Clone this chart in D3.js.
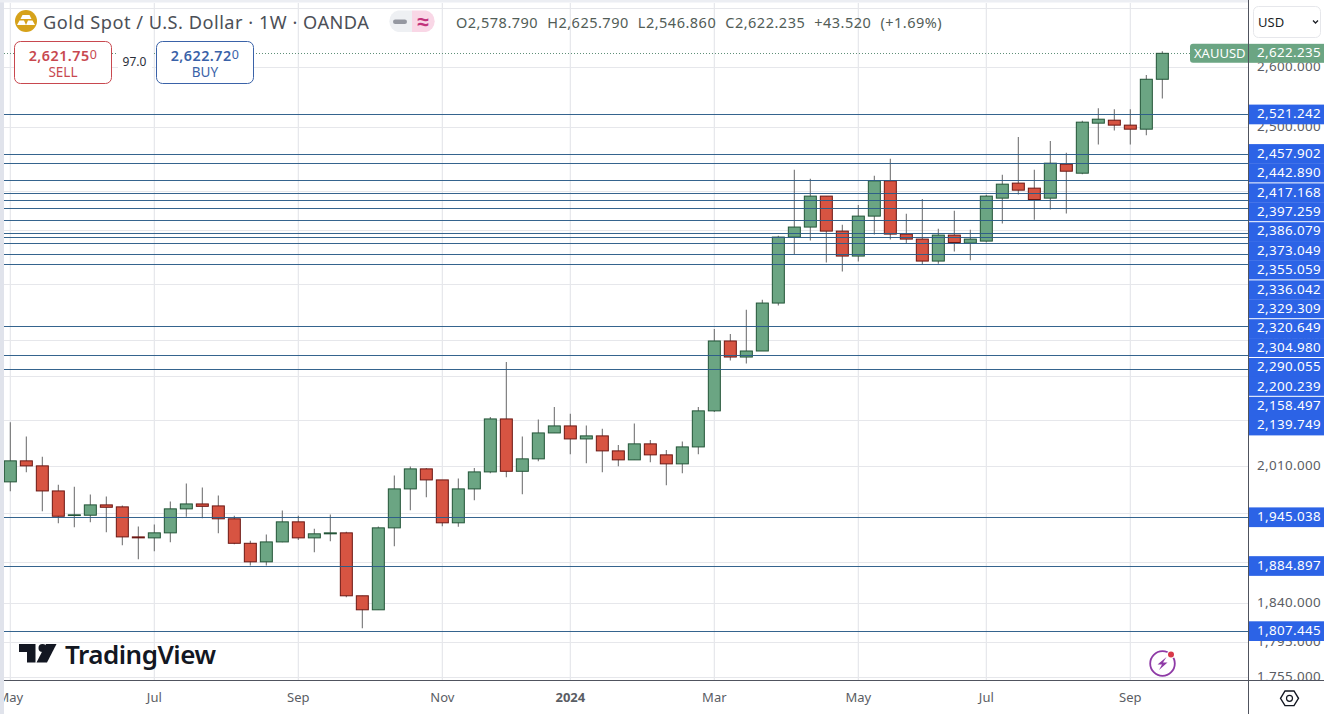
<!DOCTYPE html>
<html><head><meta charset="utf-8">
<script src="https://cdn.jsdelivr.net/npm/d3@7"></script>
<style>
html,body{margin:0;padding:0;background:#fff;overflow:hidden}
svg{display:block}
text{font-family:"Noto Sans",sans-serif}
</style></head><body><svg id="c" width="1324" height="714"></svg>
<script>
const weeks=["2023-05-01","2023-05-08","2023-05-15","2023-05-22","2023-05-29","2023-06-05","2023-06-12","2023-06-19","2023-06-26","2023-07-03","2023-07-10","2023-07-17","2023-07-24","2023-07-31","2023-08-07","2023-08-14","2023-08-21","2023-08-28","2023-09-04","2023-09-11","2023-09-18","2023-09-25","2023-10-02","2023-10-09","2023-10-16","2023-10-23","2023-10-30","2023-11-06","2023-11-13","2023-11-20","2023-11-27","2023-12-04","2023-12-11","2023-12-18","2023-12-25","2024-01-01","2024-01-08","2024-01-15","2024-01-22","2024-01-29","2024-02-05","2024-02-12","2024-02-19","2024-02-26","2024-03-04","2024-03-11","2024-03-18","2024-03-25","2024-04-01","2024-04-08","2024-04-15","2024-04-22","2024-04-29","2024-05-06","2024-05-13","2024-05-20","2024-05-27","2024-06-03","2024-06-10","2024-06-17","2024-06-24","2024-07-01","2024-07-08","2024-07-15","2024-07-22","2024-07-29","2024-08-05","2024-08-12","2024-08-19","2024-08-26","2024-09-02","2024-09-09","2024-09-16"];
const opens=[1989.7,2016.8,2010.3,1978.1,1947,1947.4,1960.4,1957.9,1920.4,1919.2,1925.4,1955.4,1961.6,1959.1,1942.9,1912.5,1889.8,1914.2,1939.1,1919.2,1924.2,1925.4,1848.9,1832.3,1931.6,1980.7,2006.4,1992.2,1937.9,1980.7,2002.5,2072,2003.3,2019.4,2053.4,2062.7,2045.5,2049.5,2029.8,2018.1,2039,2024.6,2012.9,2035,2082.8,2178.7,2156.3,2164.7,2232.6,2329.5,2344.6,2391.8,2338.5,2301.2,2361.2,2415.4,2334,2326.5,2293.8,2332.5,2320.5,2323.5,2388.7,2411.9,2404.1,2388.7,2441.5,2427.4,2506.9,2511.7,2503.7,2497.2,2578.79];
const highs=[2067.5,2048.6,2022,1986,1983.6,1973.5,1970.9,1959.5,1933.2,1935.7,1964.6,1987.5,1982.4,1972.2,1946.6,1915.5,1923.3,1953.2,1946.6,1930.4,1948.3,1926.7,1848.9,1933.2,1997.8,2009.4,2007.7,1992.2,1993.9,2007.7,2074.7,2149.4,2048.6,2071.1,2088.1,2079.1,2063.1,2059.1,2037.6,2065.8,2044.2,2031.1,2042,2088.1,2195.6,2188.5,2223,2237.3,2331.5,2432.6,2418.6,2391.8,2348,2378,2423.2,2449.9,2364.7,2387.2,2342,2369.3,2340.5,2393.8,2424.8,2484.8,2432.6,2478.4,2459.4,2510.6,2531.1,2529.5,2529.5,2586,2625.79];
const lows=[1977.6,2002,1952.4,1937.4,1932.4,1938.6,1926.2,1910.1,1893,1902.7,1913.8,1945.4,1943.6,1925,1911.3,1885.2,1885.2,1913.7,1916.7,1901.5,1915,1847.2,1810.7,1832.3,1908.9,1953.6,1970,1933.7,1933,1966.2,2000.7,1995.6,1973.8,2016.3,2053.4,2025.4,2013.7,2002,2009.8,2018.1,2015,1985.3,2000.7,2025.4,2081.4,2151.6,2147.5,2164.7,2229.1,2303.6,2324.4,2291.7,2278.5,2293.2,2333.4,2325.9,2320.5,2287.9,2289.8,2308,2295,2321.4,2350,2394.2,2355.6,2371.3,2365.2,2425.9,2472.5,2495,2472.5,2487.6,2546.86];
const closes=[2016.8,2010.3,1978.1,1946.1,1947.9,1960.4,1957.4,1920.4,1919.2,1925.4,1955.4,1961.6,1958.6,1942.9,1912.5,1889.8,1914.2,1939.1,1919.2,1924.2,1925.4,1848.9,1832.3,1931.6,1980.7,2006.4,1992.2,1937.9,1980.7,2002.5,2072,2003.3,2019.4,2053.4,2062.7,2045.5,2049.5,2029.8,2018.1,2039,2024.6,2012.9,2035,2082.8,2178.7,2156.3,2164.7,2232.6,2329.5,2344.6,2391.8,2338.5,2301.2,2361.2,2415.4,2334,2326.5,2293.8,2332.5,2321.4,2326.5,2391.8,2410.3,2401,2386.6,2443.1,2430.5,2508.5,2513.3,2503.7,2497.2,2578.8,2622.235];
const levels=[2521.242,2457.902,2442.89,2417.168,2397.259,2386.079,2373.049,2355.059,2336.042,2329.309,2320.649,2304.98,2290.055,2200.239,2158.497,2139.749,1945.038,1884.897,1807.445];
const priceTicks=[2700,2600,2500,2400,2340,2260,2180,2130,2070,2010,1950,1890,1840,1795,1755];
const timeTicks=[["2023-05-01","May"],["2023-07-03","Jul"],["2023-09-04","Sep"],["2023-11-06","Nov"],["2024-01-01","2024"],["2024-03-04","Mar"],["2024-05-06","May"],["2024-07-01","Jul"],["2024-09-02","Sep"]];
const lastPrice=2622.235;
const labelGroupStarts=[2,4,7,9,11,13];

const W=1324,H=714,plotL=4,plotR=1248.5,plotB=680.5;
const parse=d3.utcParse("%Y-%m-%d");
const x=d3.scaleUtc().domain([parse(weeks[0]),parse(weeks[weeks.length-1])]).range([10.33,1162.33]);
const y=d3.scaleLog().domain([1807.445,2521.242]).range([631,114.3]);
const snap=v=>Math.round(v)+.5;
const fmt=d3.format(",.3f");
const svg=d3.select("#c");
svg.append("rect").attr("width",W).attr("height",H).attr("fill","#fff");
svg.append("defs").append("clipPath").attr("id","plot").append("rect").attr("x",plotL).attr("y",3).attr("width",plotR-plotL).attr("height",plotB-3);
svg.append("defs").append("clipPath").attr("id","axisY").append("rect").attr("x",plotR).attr("y",0).attr("width",W-plotR).attr("height",plotB);

const plot=svg.append("g").attr("clip-path","url(#plot)");
plot.append("g").selectAll("line").data(priceTicks).join("line")
 .attr("x1",plotL).attr("x2",plotR).attr("y1",d=>snap(y(d))).attr("y2",d=>snap(y(d)))
 .attr("stroke","#e6e7eb").attr("stroke-width",1.2);
plot.append("g").selectAll("line").data(timeTicks).join("line")
 .attr("x1",d=>x(parse(d[0]))).attr("x2",d=>x(parse(d[0]))).attr("y1",0).attr("y2",plotB)
 .attr("stroke","#e6e7eb").attr("stroke-width",1.2);
plot.append("line").attr("x1",plotL).attr("x2",1190).attr("y1",snap(y(lastPrice))).attr("y2",snap(y(lastPrice)))
 .attr("stroke","#5f8f78").attr("stroke-width",1).attr("stroke-dasharray","1 2");
const idx=d3.range(weeks.length);
const cg=plot.append("g");
cg.selectAll("line").data(idx).join("line")
 .attr("x1",i=>x(parse(weeks[i]))).attr("x2",i=>x(parse(weeks[i])))
 .attr("y1",i=>y(highs[i])).attr("y2",i=>y(lows[i]))
 .attr("stroke","#737375").attr("stroke-width",1.1);
cg.selectAll("rect").data(idx).join("rect")
 .attr("x",i=>x(parse(weeks[i]))-6)
 .attr("width",12)
 .attr("y",i=>y(Math.max(opens[i],closes[i])))
 .attr("height",i=>Math.max(.4,Math.abs(y(opens[i])-y(closes[i]))))
 .attr("fill",i=>closes[i]>=opens[i]?"#6ba583":"#d75442")
 .attr("stroke",i=>closes[i]>=opens[i]?"#225437":"#6b1713")
 .attr("stroke-width",1);
plot.append("g").selectAll("line").data(levels).join("line")
 .attr("x1",plotL).attr("x2",plotR).attr("y1",d=>snap(y(d))).attr("y2",d=>snap(y(d)))
 .attr("stroke","#2a5c88").attr("stroke-opacity",.95).attr("stroke-width",1.2);

svg.append("rect").attr("x",0).attr("y",0).attr("width",plotL).attr("height",H).attr("fill","#e0e3eb");
svg.append("rect").attr("x",0).attr("y",0).attr("width",plotR).attr("height",2.5).attr("fill","#eceef3");

const axisG=svg.append("g").attr("clip-path","url(#axisY)");
axisG.append("g").selectAll("text").data(priceTicks.slice(1)).join("text")
 .attr("x",1321).attr("y",d=>y(d)-1).attr("text-anchor","end").attr("dominant-baseline","central")
 .attr("font-size",13.4).attr("letter-spacing",.35).attr("fill","#5a5d64").text(d=>fmt(d));
const stepH=19.4;
let prev=-1e9;
const placed=levels.map(d=>{let c=y(d); if(c<prev+stepH)c=prev+stepH; prev=c; return {d,c};});
const lab=svg.append("g");
lab.selectAll("rect").data(placed).join("rect")
 .attr("x",plotR+.5).attr("width",W-plotR).attr("y",p=>p.c-stepH/2).attr("height",stepH+.3).attr("fill","#2c63e6");
lab.selectAll("line").data(labelGroupStarts).join("line")
 .attr("x1",plotR+.5).attr("x2",W).attr("y1",i=>placed[i+1].c-stepH/2).attr("y2",i=>placed[i+1].c-stepH/2)
 .attr("stroke","#fff").attr("stroke-width",1);
lab.selectAll("text").data(placed).join("text")
 .attr("x",1321).attr("y",p=>p.c-1).attr("text-anchor","end").attr("dominant-baseline","central")
 .attr("font-size",13.4).attr("letter-spacing",.35).attr("fill","#fff").text(p=>fmt(p.d));
const ly=y(lastPrice);
svg.append("path").attr("d",`M${plotR} ${ly-9.5}H1193a3 3 0 0 0 -3 3V${ly+6.5}a3 3 0 0 0 3 3H${plotR}Z`).attr("fill","#6ba583");
svg.append("rect").attr("x",plotR).attr("y",ly-9.5).attr("width",W-plotR).attr("height",19).attr("fill","#6ba583");
svg.append("text").attr("x",1194).attr("y",ly).attr("dominant-baseline","central").attr("font-size",13).attr("fill","#fff").text("XAUUSD");
svg.append("text").attr("x",1321).attr("y",ly-1).attr("text-anchor","end").attr("dominant-baseline","central").attr("font-size",13.4).attr("letter-spacing",.35).attr("fill","#fff").text(fmt(lastPrice));

svg.append("line").attr("x1",plotR).attr("x2",plotR).attr("y1",0).attr("y2",H).attr("stroke","#50535e").attr("stroke-width",1);
svg.append("line").attr("x1",plotL).attr("x2",W).attr("y1",plotB).attr("y2",plotB).attr("stroke","#50535e").attr("stroke-width",1);

const tg=svg.append("g");
tg.selectAll("text").data(timeTicks).join("text")
 .attr("x",d=>x(parse(d[0]))).attr("y",697).attr("text-anchor","middle").attr("dominant-baseline","central")
 .attr("font-size",13).attr("fill","#5a5d64").attr("font-weight",d=>d[1]==="2024"?700:400).text(d=>d[1]);
svg.append("rect").attr("x",0).attr("y",681).attr("width",plotL).attr("height",33).attr("fill","#e0e3eb");

svg.append("rect").attr("x",1253.5).attr("y",6.5).attr("width",67).attr("height",31).attr("rx",5).attr("fill","#fff").attr("stroke","#e6e7eb");
svg.append("text").attr("x",1258).attr("y",21.5).attr("dominant-baseline","central").attr("font-size",13).attr("fill","#1c1f26").text("USD");
svg.append("path").attr("d","M1313 20.5l2.5 2.5l2.5-2.5").attr("fill","none").attr("stroke","#1c1f26").attr("stroke-width",1.3);

svg.append("circle").attr("cx",26).attr("cy",21).attr("r",11).attr("fill","#d6a21a");
svg.append("path").attr("d","M22.5 15h7l2 4h-11ZM17 25l2.5-4.5h4.5l2 4.5ZM26 25l2-4.5h4.5L35 25Z").attr("fill","#fff");
svg.append("text").attr("x",43).attr("y",22).attr("dominant-baseline","central").attr("font-size",18.2).attr("letter-spacing",.5).attr("fill","#4c4f57").text("Gold Spot / U.S. Dollar · 1W · OANDA");
svg.append("path").attr("d","M412 10.5H398a11 11 0 0 0 0 21.5H412Z").attr("fill","#eef0f3");
svg.append("path").attr("d","M412 10.5H426a11 11 0 0 1 0 21.5H412Z").attr("fill","#f9d7e6");
svg.append("rect").attr("x",393).attr("y",19.5).attr("width",14).attr("height",4.5).attr("rx",2.2).attr("fill","#9598a1");
svg.append("text").attr("x",423).attr("y",20.5).attr("text-anchor","middle").attr("dominant-baseline","central").attr("font-size",21).attr("font-weight",700).attr("fill","#c2337b").text("≈");

const ohlc=svg.append("text").attr("x",456).attr("y",22).attr("dominant-baseline","central").attr("font-size",14.5).attr("letter-spacing",.5).attr("fill","#525d57");
[["O","2,578.790"],["H","2,625.790"],["L","2,546.860"],["C","2,622.235"]].forEach((p,i)=>{
  ohlc.append("tspan").attr("dx",i?9:0).text(p[0]);
  ohlc.append("tspan").text(p[1]);
});
ohlc.append("tspan").attr("dx",9).text("+43.520");
ohlc.append("tspan").attr("dx",9).text("(+1.69%)");

function box(xp,col,val,small,lbl){
  svg.append("rect").attr("x",xp+.5).attr("y",41.5).attr("width",97).attr("height",42).attr("rx",6).attr("fill","#fff").attr("stroke",col);
  const t=svg.append("text").attr("x",xp+49).attr("y",55).attr("text-anchor","middle").attr("dominant-baseline","central").attr("fill",col).attr("font-size",14.3).attr("letter-spacing",.5);
  t.append("tspan").attr("font-weight",600).text(val);
  t.append("tspan").attr("font-size",12.5).attr("dy",-1.5).text(small);
  svg.append("text").attr("x",xp+49).attr("y",72).attr("text-anchor","middle").attr("dominant-baseline","central").attr("fill",col).attr("font-size",13.5).text(lbl);
}
box(14,"#c8484f","2,621.75","0","SELL");
box(156,"#3a62a8","2,622.72","0","BUY");
svg.append("rect").attr("x",118).attr("y",52).attr("width",34).attr("height",18).attr("fill","#fff");
svg.append("text").attr("x",134.5).attr("y",61).attr("text-anchor","middle").attr("dominant-baseline","central").attr("font-size",12).attr("fill","#2a2e39").text("97.0");

const mark=svg.append("g").attr("fill","#131722");
mark.append("path").attr("d","M19 644H35.5V662.5H27V652H19Z");
mark.append("circle").attr("cx",42.5).attr("cy",648).attr("r",4);
mark.append("path").attr("d","M46 644H56.5L47 662.5H36.5Z");
svg.append("text").attr("x",65).attr("y",654).attr("dominant-baseline","central").attr("font-family","Inter").attr("font-weight",600).attr("font-size",26).attr("letter-spacing",-.5).attr("fill","#131722").text("TradingView");

svg.append("circle").attr("cx",1162.5).attr("cy",663.5).attr("r",12.3).attr("fill","none").attr("stroke","#8e3aa6").attr("stroke-width",1.8);
svg.append("path").attr("d","M1166.5 657L1157.5 664.5H1162L1159 670L1167.5 662.5H1163Z").attr("fill","#8e3aa6");
svg.append("circle").attr("cx",1171).attr("cy",654.5).attr("r",4).attr("fill","#fff");
svg.append("circle").attr("cx",1171).attr("cy",654.5).attr("r",3).attr("fill","#d9394a");
svg.append("path").attr("d","M1280.5 698.3L1285 691H1294L1298.5 698.3L1294 705.6H1285Z").attr("fill","none").attr("stroke","#131722").attr("stroke-width",1.4);
svg.append("circle").attr("cx",1289.5).attr("cy",698.3).attr("r",3).attr("fill","none").attr("stroke","#131722").attr("stroke-width",1.2);
</script></body></html>
